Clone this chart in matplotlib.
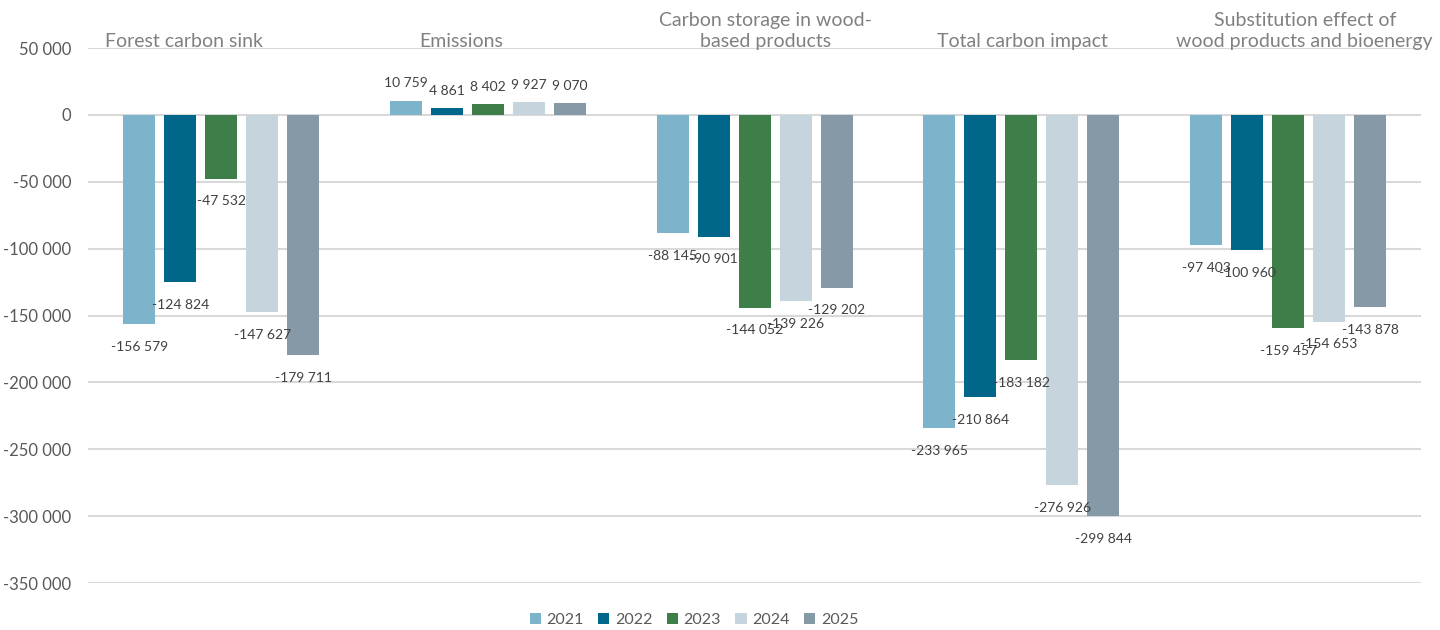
import matplotlib
matplotlib.use("Agg")
import matplotlib.pyplot as plt
import numpy as np

plt.rcParams['font.family'] = ['Lato', 'DejaVu Sans']

categories = ["Forest carbon sink", "Emissions", "Carbon storage in wood-\nbased products",
              "Total carbon impact", "Substitution effect of\nwood products and bioenergy"]
years = ["2021", "2022", "2023", "2024", "2025"]
values_2021 = [-156579, 10759, -88145, -233965, -97403]
values_2022 = [-124824, 4861, -90901, -210864, -100960]
values_2023 = [-47532, 8402, -144052, -183182, -159457]
values_2024 = [-147627, 9927, -139226, -276926, -154653]
values_2025 = [-179711, 9070, -129202, -299844, -143878]
series = [values_2021, values_2022, values_2023, values_2024, values_2025]
colors = ["#7EB3CC", "#00668A", "#3E7E48", "#C6D4DD", "#8599A7"]
y_ticks = list(range(-350000, 50001, 50000))

# horizontal nudges (points) for the category captions along the top
caption_shift = [-27, -19, 8, 1, 12]

fig = plt.figure(figsize=(14.4, 6.3), dpi=100)
ax = fig.add_axes([0.0611, 0.0746, 0.926, 0.849])

x = np.arange(len(categories))
width = 0.12
step = 0.1536
for i, (vals, col, yr) in enumerate(zip(series, colors, years)):
    pos = x + (i - 2) * step
    bars = ax.bar(pos, vals, width=width, color=col, label=yr, zorder=3)
    for b, v in zip(bars, vals):
        label = f"{v:,}".replace(",", " ")
        cx = b.get_x() + b.get_width() / 2
        if v < 0:
            ax.annotate(label, (cx, v), xytext=(0, -12), textcoords="offset points",
                        ha="center", va="top", fontsize=10, color="#404040", zorder=4)
        else:
            ax.annotate(label, (cx, v), xytext=(0, 8), textcoords="offset points",
                        ha="center", va="bottom", fontsize=10, color="#404040", zorder=4)

ax.set_xlim(-0.5, len(categories) - 0.5)
ax.set_ylim(-350000, 50000)
ax.set_yticks(y_ticks)
ax.set_yticklabels([f"{t:,}".replace(",", " ") for t in y_ticks], fontsize=12, color="#595959")
ax.tick_params(axis="y", length=0, pad=12)
ax.set_xticks([])
ax.yaxis.grid(True, color="#D9D9D9", linewidth=1.5, zorder=0)
for s in ax.spines.values():
    s.set_visible(False)

for xi, cat, dx in zip(x, categories, caption_shift):
    ax.annotate(cat, (xi, 50000), xytext=(dx, -1.5), textcoords="offset points",
                ha="center", va="bottom", fontsize=14, color="#808080",
                linespacing=1.3, annotation_clip=False, zorder=5)

fig.legend(loc="center", bbox_to_anchor=(694 / 1440, 1 - 620 / 630), ncol=5, frameon=False,
           fontsize=11.5, labelcolor="#595959", handlelength=0.7, handleheight=0.7,
           handletextpad=0.35, columnspacing=0.9)

fig.savefig("out.png", dpi=100)
